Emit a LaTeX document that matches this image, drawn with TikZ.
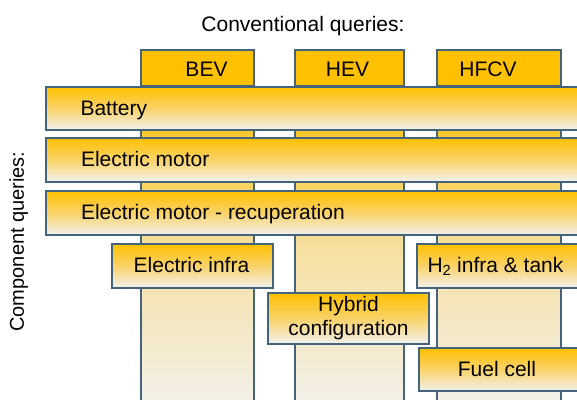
\documentclass[tikz,border=0pt]{standalone}
\usepackage{fontspec}
\setmainfont{Liberation Sans}
\usetikzlibrary{positioning}
\definecolor{queryGold}{HTML}{FFC000}
\definecolor{queryEdge}{HTML}{44637C}
\definecolor{queryFade}{HTML}{F2F1EE}
\definecolor{queryTan}{HTML}{F6E0A3}
\definecolor{queryMid}{HTML}{F9D36A}

\begin{document}
\begin{tikzpicture}[x=1pt, y=-1pt,
    every node/.style={inner sep=0pt, outer sep=0pt},
    lbl/.style={font=\fontsize{21}{24}\selectfont, text=black},
    headbox/.style={draw=queryEdge, line width=1.5pt, fill=queryGold, anchor=north west},
    colbody/.style={draw=queryEdge, line width=1.5pt, top color=queryGold, bottom color=queryFade, middle color=queryTan, anchor=north west},
    rowbox/.style={draw=queryEdge, line width=1.5pt, top color=queryGold, bottom color=queryFade, middle color=queryMid, anchor=north west}]
        \useasboundingbox (0,0) rectangle (577,399);
        \clip (0,0) rectangle (577,399);
        % vehicle columns
        \node[colbody, minimum width=113pt, minimum height=330pt] (bevbody) at (141,86) {};
        \node[colbody, minimum width=109pt, minimum height=330pt] (hevbody) at (295,86) {};
        \node[colbody, minimum width=124pt, minimum height=330pt] (hfcvbody) at (437,86) {};
        \node[headbox, minimum width=113pt, minimum height=36pt] (bevhead) at (141,50) {};
        \node[headbox, minimum width=109pt, minimum height=36pt] (hevhead) at (295,50) {};
        \node[headbox, minimum width=124pt, minimum height=36pt] (hfcvhead) at (437,50) {};
        \node[lbl, anchor=base] (bevtext) at (206.5,76) {BEV};
        \node[lbl, anchor=base] (hevtext) at (347.5,76) {HEV};
        \node[lbl, anchor=base] (hfcvtext) at (488,76) {HFCV};
        % component rows
        \node[rowbox, minimum width=580pt, minimum height=43pt] (battery) at (46,87) {};
        \node[rowbox, minimum width=580pt, minimum height=44pt] (motor) at (46,138) {};
        \node[rowbox, minimum width=580pt, minimum height=44pt] (recup) at (46,191) {};
        \node[rowbox, minimum width=161pt, minimum height=44pt] (elinfra) at (112,244) {};
        \node[rowbox, minimum width=200pt, minimum height=44pt] (htwoinfra) at (417,244) {};
        \node[rowbox, minimum width=161pt, minimum height=51pt] (hybrid) at (268,293) {};
        \node[rowbox, minimum width=200pt, minimum height=43pt] (fuelcell) at (419,348) {};
        \node[lbl, anchor=base west] (batterytext) at (80.5,115) {Battery};
        \node[lbl, anchor=base west] (motortext) at (81,166.5) {Electric motor};
        \node[lbl, anchor=base west] (recuptext) at (81,219.5) {Electric motor - recuperation};
        \node[lbl, anchor=base] (elinfratext) at (191.5,272.5) {Electric infra};
        \node[lbl, anchor=base west] (htwotext) at (427.5,272.5) {H\textsubscript{2} infra \& tank};
        \node[lbl, anchor=base] (hybridtext) at (348.5,311) {Hybrid};
        \node[lbl, anchor=base] (configtext) at (348.5,335) {configuration};
        \node[lbl, anchor=base] (fueltext) at (497,376) {Fuel cell};
        % axis titles
        \node[lbl, anchor=base] (convtitle) at (303,31.7) {Conventional queries:};
        \node[lbl, font=\fontsize{20}{24}\selectfont, anchor=base, rotate=90] (comptitle) at (23.8,241.5) {Component queries:};
      \end{tikzpicture}
\end{document}
